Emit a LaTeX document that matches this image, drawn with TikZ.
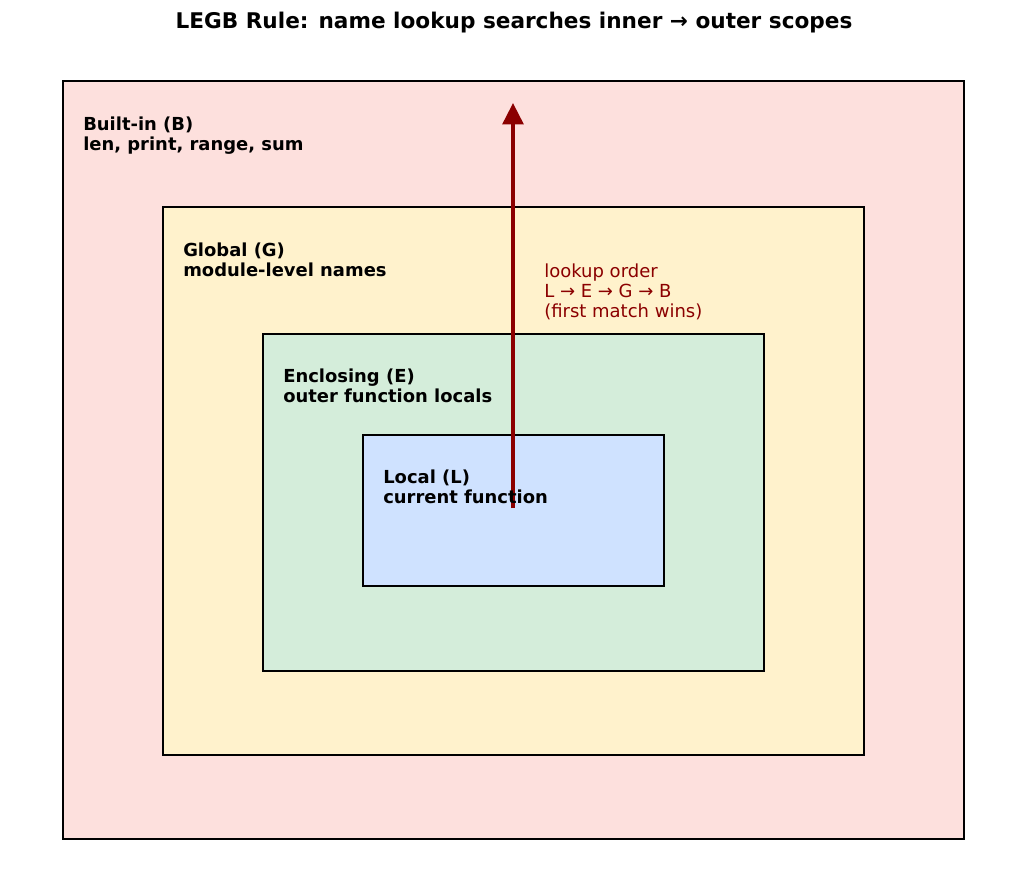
\documentclass[tikz,border=0pt]{standalone}
\usepackage{fontspec}
\setmainfont{DejaVu Sans}
\usetikzlibrary{arrows.meta}
\definecolor{builtinfill}{HTML}{FDE0DD}
\definecolor{globalfill}{HTML}{FFF2CC}
\definecolor{enclfill}{HTML}{D4EDDA}
\definecolor{localfill}{HTML}{CFE2FF}
\definecolor{lookupred}{HTML}{8B0000}
\tikzset{
  scopebox/.style={draw=black, line width=1.9pt},
  lbl/.style={anchor=base west, inner sep=0pt, font=\fontsize{13.45}{16}\selectfont\bfseries},
  note/.style={anchor=base west, inner sep=0pt, text=lookupred, font=\fontsize{13.5}{16}\selectfont},
}
\begin{document}
\begin{tikzpicture}[x=0.75pt, y=-0.75pt]
\useasboundingbox (0,0) rectangle (1027,894);
\node[anchor=base, inner sep=0pt, font=\fontsize{16.2}{19}\selectfont\bfseries] (title) at (514,28) {LEGB Rule: name lookup searches inner → outer scopes};

\draw[scopebox, fill=builtinfill] (63,81) rectangle (964,839);
\draw[scopebox, fill=globalfill] (163,207) rectangle (864,755);
\draw[scopebox, fill=enclfill] (263,334) rectangle (764,671);
\draw[scopebox, fill=localfill] (363,435) rectangle (664,586);

\coordinate (start) at (513,508);
\coordinate (end) at (513,103);
\draw[lookupred, line width=2.8pt, -{Triangle[length=16pt, width=15.5pt]}] (start) -- (end);

\node[lbl] (b1) at (83,130) {Built-in (B)};
\node[lbl] (b2) at (83,150) {len, print, range, sum};
\node[lbl] (g1) at (183,256) {Global (G)};
\node[lbl] (g2) at (183,276) {module-level names};
\node[lbl] (e1) at (283,382) {Enclosing (E)};
\node[lbl] (e2) at (283,402) {outer function locals};
\node[lbl] (l1) at (383,483) {Local (L)};
\node[lbl] (l2) at (383,503) {current function};

\node[note] (n1) at (544,277) {lookup order};
\node[note] (n2) at (544,297) {L → E → G → B};
\node[note] (n3) at (544,317) {(first match wins)};
\end{tikzpicture}
\end{document}
